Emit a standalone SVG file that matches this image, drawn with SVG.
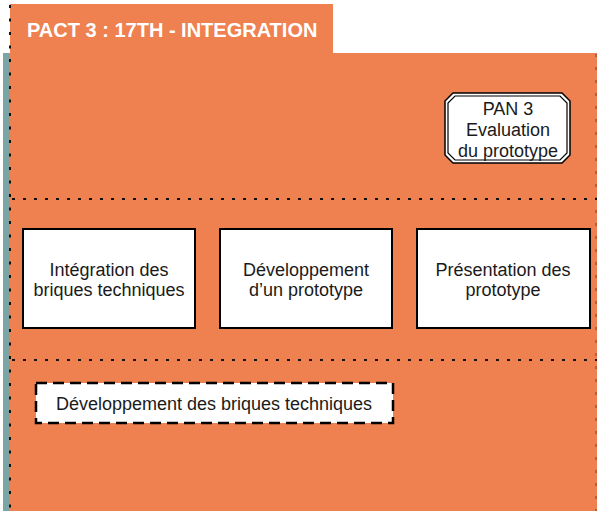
<svg xmlns="http://www.w3.org/2000/svg" width="597" height="511" viewBox="0 0 597 511">
<style>
.lbl{font-family:"Liberation Sans",Arial,sans-serif;font-size:18px;fill:#1a1a1a;text-anchor:middle}
.box{fill:#fff;stroke:#000;stroke-width:2}
.sep{stroke:#111;stroke-width:2;stroke-dasharray:3 8}
</style>
<rect x="0" y="0" width="597" height="511" fill="#fff"/>
<rect x="3" y="53" width="8" height="458" fill="#7BA5A5"/>
<rect x="10" y="4" width="323" height="50" fill="#EF8050"/>
<rect x="10" y="53" width="587" height="458" fill="#EF8050"/>
<line x1="10" y1="5" x2="10" y2="511" stroke="#111" stroke-width="2" stroke-dasharray="3 10.5"/>
<line x1="596" y1="54" x2="596" y2="511" stroke="#B5603A" stroke-width="2" stroke-dasharray="3 10"/>
<text x="27" y="37" font-family="Liberation Sans,Arial,sans-serif" font-weight="bold" font-size="20" fill="#fff">PACT 3 : 17TH - INTEGRATION</text>
<line class="sep" x1="12" y1="199" x2="597" y2="199"/>
<line class="sep" x1="12" y1="360" x2="597" y2="360"/>
<g id="pan3">
<path d="M453,93 L562,93 L570,101 L570,155 L562,163 L453,163 L445,155 L445,101 Z" fill="#fff" stroke="#000" stroke-width="1.5"/>
<path d="M455,96 L560,96 L567,103 L567,153 L560,160 L455,160 L448,153 L448,103 Z" fill="none" stroke="#000" stroke-width="1.2"/>
<text class="lbl" x="508" y="115">PAN 3</text>
<text class="lbl" x="508" y="136">Evaluation</text>
<text class="lbl" x="508" y="157">du prototype</text>
</g>
<g id="n1">
<rect class="box" x="23" y="229" width="172" height="99"/>
<text class="lbl" x="109" y="276">Intégration des</text>
<text class="lbl" x="109" y="296">briques techniques</text>
</g>
<g id="n2">
<rect class="box" x="220" y="229" width="172" height="99"/>
<text class="lbl" x="306" y="276">Développement</text>
<text class="lbl" x="306" y="296">d’un prototype</text>
</g>
<g id="n3">
<rect class="box" x="417" y="229" width="173" height="99"/>
<text class="lbl" x="503" y="276">Présentation des</text>
<text class="lbl" x="503" y="296">prototype</text>
</g>
<g id="n4">
<rect x="36" y="383" width="357" height="40" fill="#fff" stroke="#000" stroke-width="2.5" stroke-dasharray="11 6"/>
<text class="lbl" x="214" y="410">Développement des briques techniques</text>
</g>
<g id="connectors"></g>
</svg>
